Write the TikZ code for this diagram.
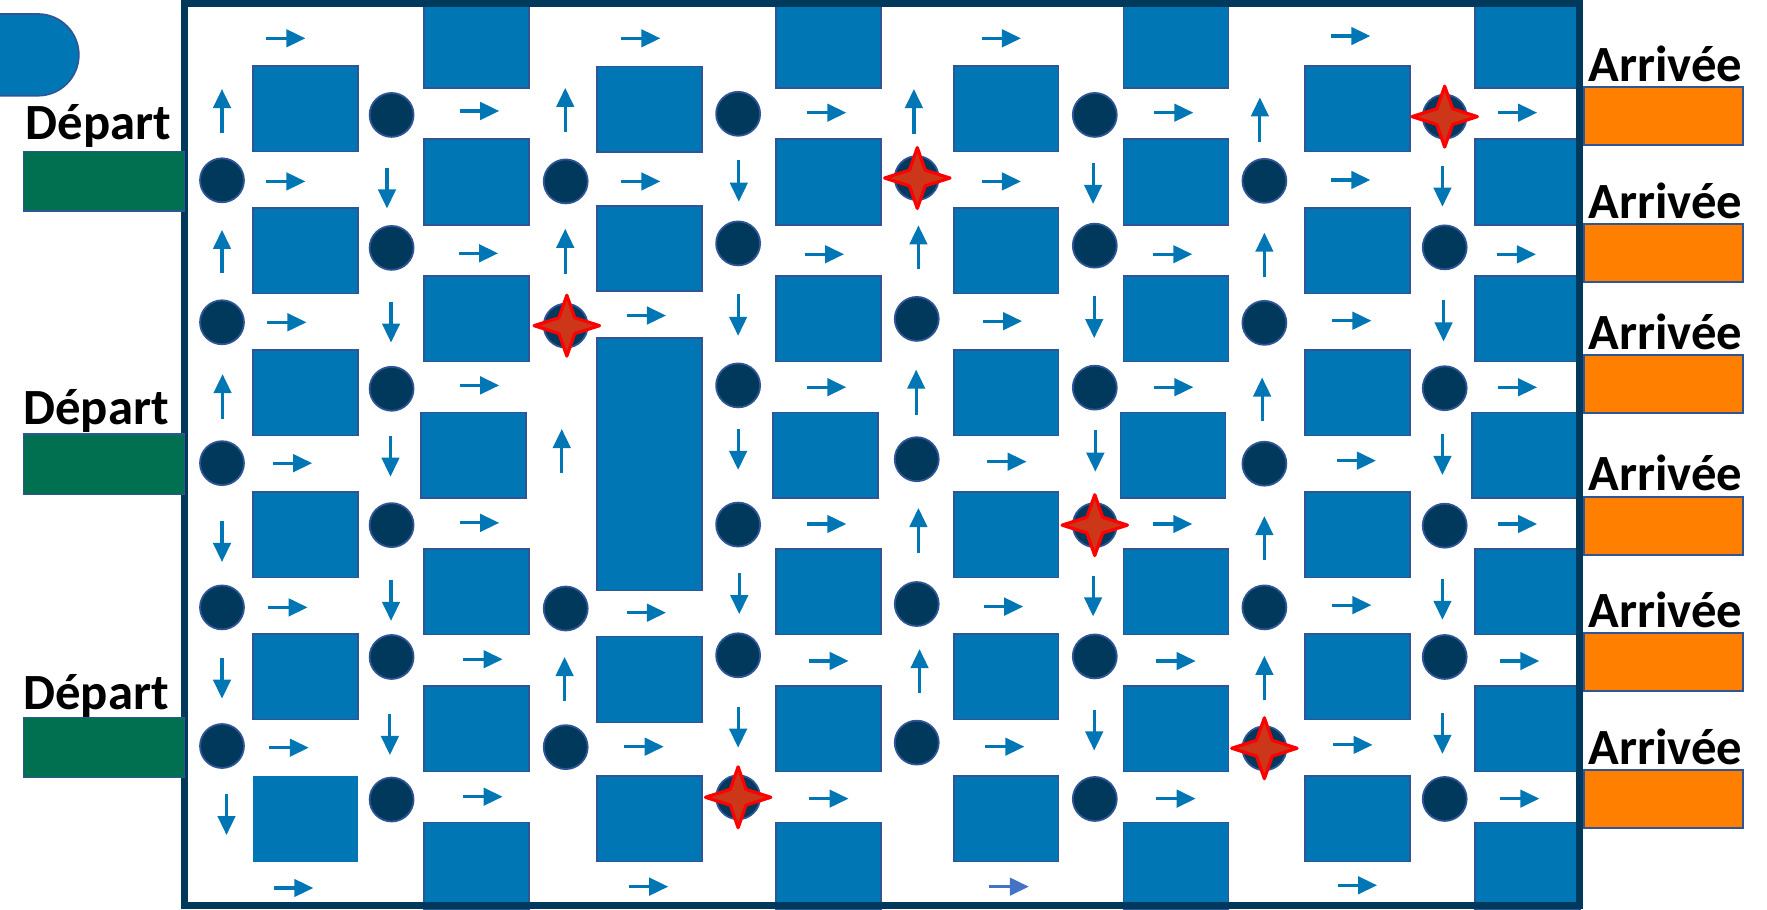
\documentclass[tikz,border=0pt]{standalone}
\usepackage{fontspec}
\setmainfont{Carlito}
\usepackage{xcolor}
\usepackage{tikz}
\usetikzlibrary{arrows.meta}

\definecolor{blocblue}{RGB}{0,118,180}
\definecolor{blocline}{RGB}{47,85,151}
\definecolor{navy}{RGB}{0,57,92}
\definecolor{departgreen}{RGB}{0,112,80}
\definecolor{arrorange}{RGB}{255,128,0}
\definecolor{starcore}{RGB}{205,55,25}
\definecolor{lightarrow}{RGB}{68,114,196}

\newcommand{\etoile}[2]{%
  \draw[red, fill=starcore, line width=0.8pt, line join=round, shift={(#1,#2)}]
    (-29,0) -- (-7,-7) -- (0,-27) -- (7,-7) -- (29,0) -- (7,7) -- (0,27) -- (-7,7) -- cycle;}

\begin{document}
\begin{tikzpicture}[x=0.01cm, y=-0.01cm, font=\fontsize{12.8}{14}\selectfont\bfseries,
  bloc/.style={fill=blocblue, draw=blocline, line width=0.4pt},
  pion/.style={fill=navy, draw=blocline, line width=0.45pt},
  fl/.style={-{Triangle[length=4.8pt,width=4.4pt]}, draw=blocblue, line width=0.8pt}]
  \useasboundingbox (0,0) rectangle (1568,807);

  % logo
  \draw[bloc] (-2,12.4) -- (33.7,12.4) arc[start angle=-90, end angle=90, radius=36.3] -- (-2,85) -- cycle;

  % blocks, columns B, J, N
  \foreach \x in {224.7,846.4,1158}
    \foreach \y in {58.6,184.6,310.6,436.6,562.6}
      \draw[bloc] (\x,\y) rectangle ++(93,76);
  \fill[blocblue] (224.7,688.6) rectangle ++(93,76);
  \foreach \x in {846.4,1158}
    \draw[bloc] (\x,688.6) rectangle ++(93,76);
  % column F
  \draw[bloc] (529.7,59) rectangle (622.8,135);
  \draw[bloc] (529.7,182.8) rectangle (622.8,258);
  \draw[bloc] (529.7,299.7) rectangle (622.8,524);
  \draw[bloc] (529.7,565) rectangle (622.8,641);
  \draw[bloc] (529.7,688.6) rectangle (622.8,764.6);
  % columns D, H, L, P
  \foreach \x in {376.3,688.6,997,1309} {
    \draw[bloc] (\x,0) rectangle ++(93,78);
    \foreach \y in {123.6,244.7,487,608.7}
      \draw[bloc] (\x,\y) rectangle ++(93,76);
    \draw[bloc] (\x-2.7,366) rectangle ++(93,76);
    \draw[bloc] (\x,730) rectangle ++(93,77);
  }

  % pawns
  \foreach \x/\y in {197/160,197/286,197/411,197/539,197/662,
      347.5/102,347.5/220,347.5/345,347.5/466,347.5/583,347.5/709.5,
      502/161,502/289,502/540,502/663,
      655/101,655/216,655/342,655/465.5,655/581.5,655/707.5,
      813.5/158,813.5/283,813.5/407.5,813.5/536,813.5/659,
      971.5/102,971.5/218,971.5/344,971.5/466,971.5/582.5,971.5/709,
      1122/160.5,1122/286.5,1122/411.5,1122/539,1122/664,
      1282/103.5,1282/219.5,1282/344.5,1282/466.5,1282/583,1282/709}
    \draw[pion] (\x,\y) circle (19.5);

  % stars
  \etoile{503}{289}
  \etoile{814}{158}
  \etoile{1282}{103.5}
  \etoile{971.5}{466}
  \etoile{655}{707.5}
  \etoile{1122}{664}

  % horizontal arrows
  \foreach \x/\y in {236/34,236/161,237/286,242/411,238/539,239/663.5,243/788,
      408/98.5,407/224.8,408/342,408/464,411/585,411/707,
      551/34,551/161,556/280,556/543.7,554/662.6,558/786.8,
      716/100,714/225.6,716/343.6,716/465,718/586.5,718/708.7,
      871/34,871/161,872/285,876/409.7,873/538.3,874/662.6,
      1024/100,1023/225.6,1024/343.6,1023/465,1026/586.6,1026/708.7,
      1181/32,1181/159.7,1182/284.6,1186/408.8,1182/537,1183/661,1187/785.6,
      1329/100,1328/225.7,1329/343.7,1329/465,1331/586.6,1331/708.7}
    \draw[fl] (\x,\y) -- ++(35,0);
  \draw[fl, draw=lightarrow] (878,786.8) -- ++(35,0);

  % vertical arrows
  \foreach \x/\a/\b in {197/118/79,197/242/204,197.5/371.6/332,197/462.3/498.7,197/584/620,201/704.6/741,
      343.4/148.8/185,347/267.7/304,346.5/386.6/423,347/514.7/551,346/633.6/670,
      501.6/117/78,501.6/243/203,498.5/420/380.7,501/622/583,
      655.6/142/179,655/261/298,655/381/417,656/508.6/545,655/627/663.5,
      811/119/79,815/239/200,813/368/328,815/490.4/450.8,816/615/576,
      970/145/181,971/263/300,972/382/418.6,970/511/547,971/630/666,
      1118/125.7/86.4,1122/246/206.5,1120/374/335,1122/497/458,1122/621/582,
      1280/147/183.4,1281/266/303,1280/385/421.5,1280/514/550,1280/632.6/669}
    \draw[fl] (\x,\a) -- (\x,\b);

  % frame
  \draw[navy, line width=1.8pt] (163.7,3.4) rectangle (1401.5,803.6);

  % start boxes
  \draw[fill=departgreen, draw=blocline, line width=0.4pt] (20.7,134.6) rectangle (163.7,187);
  \draw[fill=departgreen, draw=blocline, line width=0.4pt] (20.7,385) rectangle (163.7,438.7);
  \draw[fill=departgreen, draw=blocline, line width=0.4pt] (20.7,636.8) rectangle (163.7,690);
  \node[anchor=base west, inner sep=0pt] (dep1) at (22,124) {Départ};
  \node[anchor=base west, inner sep=0pt] (dep2) at (20,377) {Départ};
  \node[anchor=base west, inner sep=0pt] (dep3) at (20,629.5) {Départ};

  % finish boxes
  \foreach \y/\n in {77.5/1,198.8/2,315/3,440.7/4,561.5/5,683.5/6} {
    \draw[fill=arrorange, draw=blocline, line width=0.5pt] (1405.5,\y) rectangle ++(141,51.5);
    \node[anchor=base west, inner sep=0pt] (arr\n) at (1409,\y-5) {Arrivée};
  }
\end{tikzpicture}
\end{document}
